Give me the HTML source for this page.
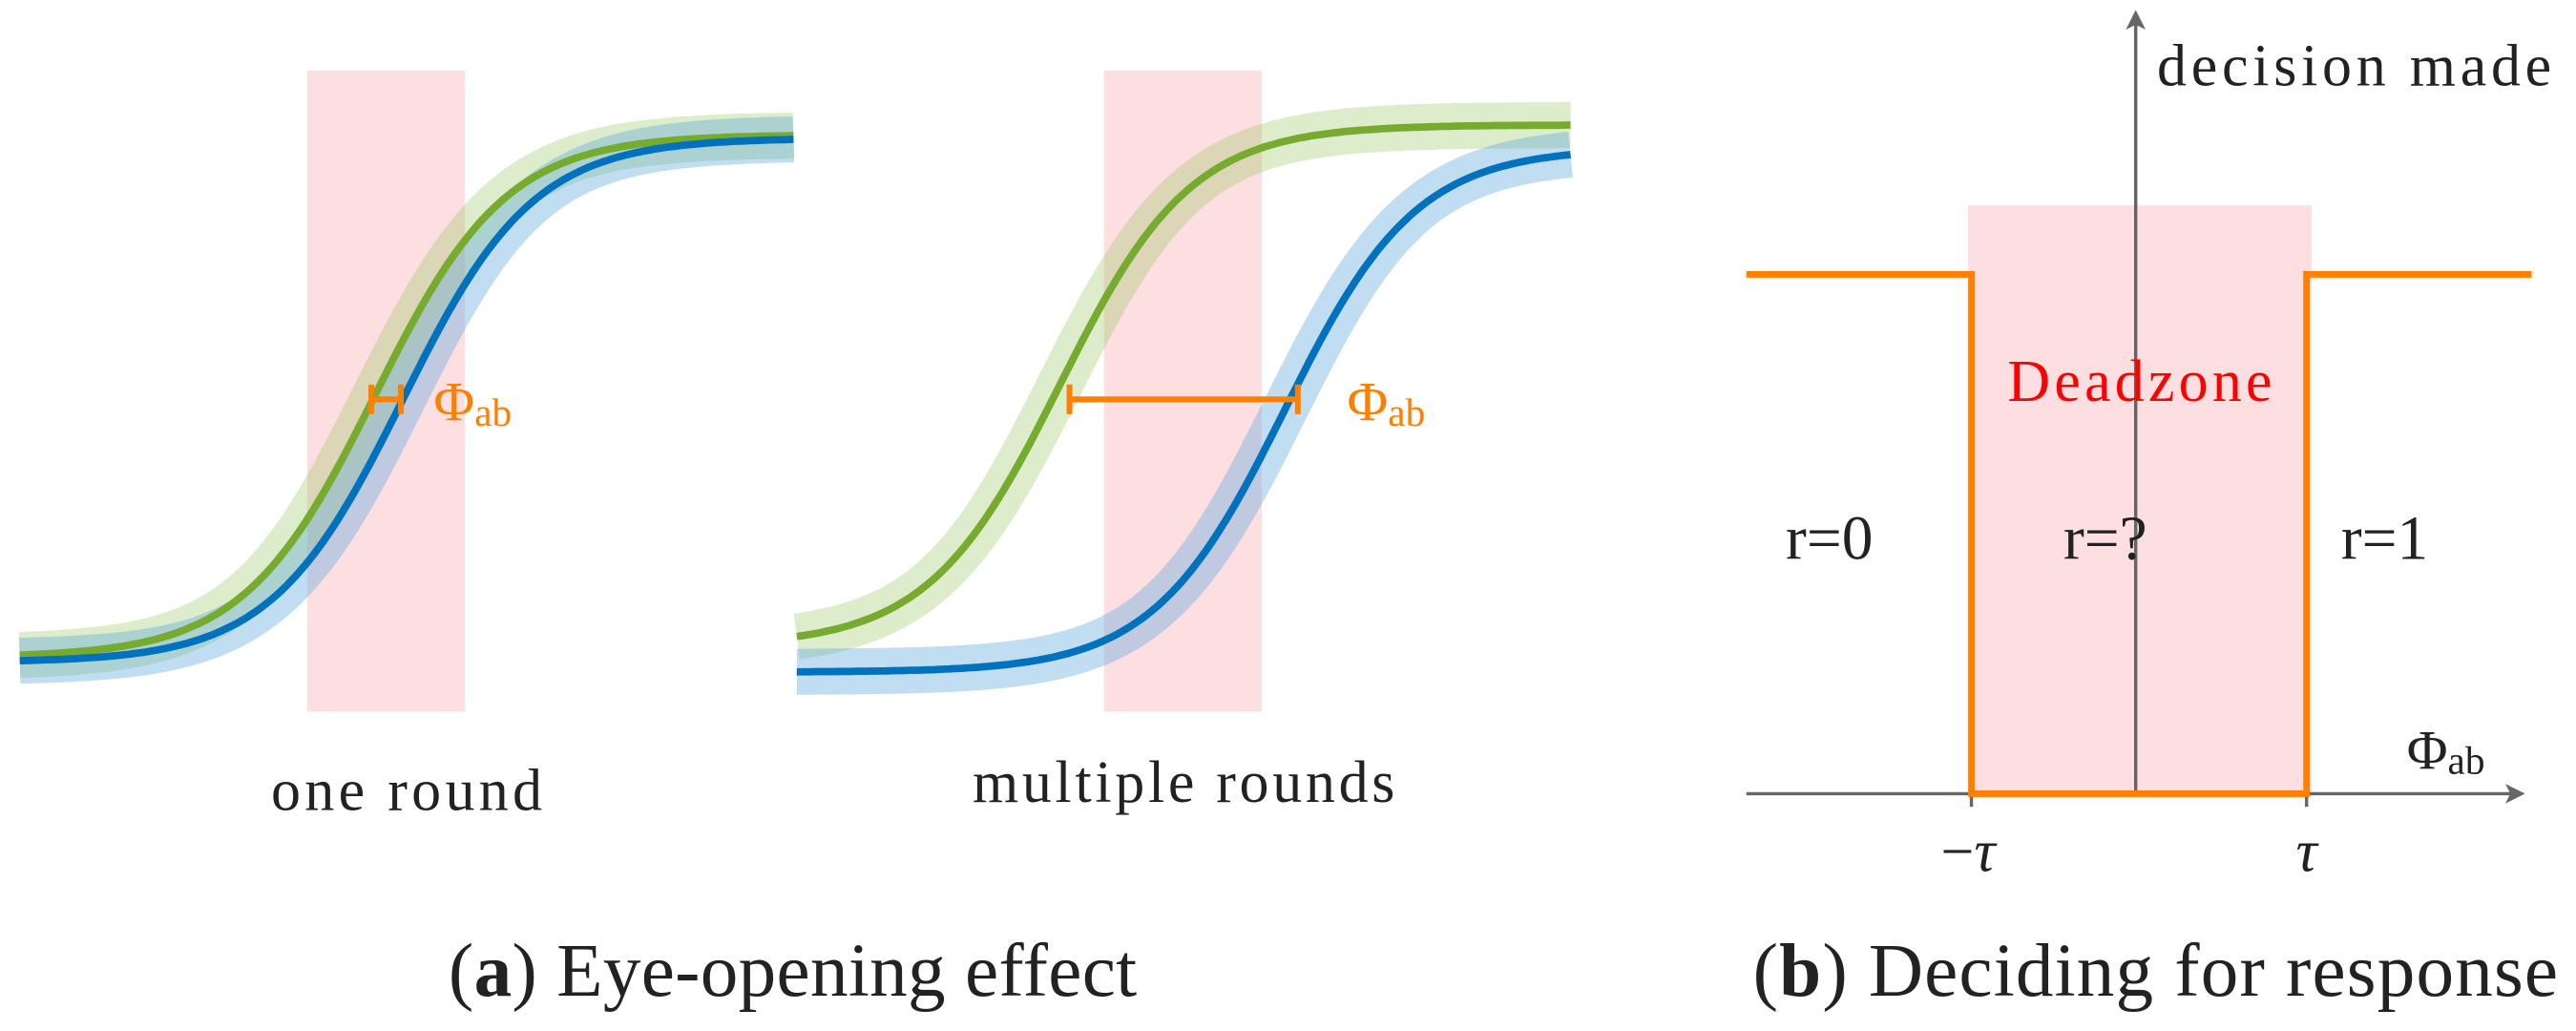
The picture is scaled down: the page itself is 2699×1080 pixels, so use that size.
<!DOCTYPE html>
<html><head><meta charset="utf-8"><style>
html,body{margin:0;padding:0;background:#fff;}
svg{display:block}
text{font-family:"Liberation Serif",serif;}
</style></head><body>
<svg id="s" width="2699" height="1080" viewBox="0 0 1568 627.4" xmlns="http://www.w3.org/2000/svg">
<rect x="187" y="43" width="96" height="390" fill="#fddfe2"/>
<rect x="672" y="43" width="96" height="390" fill="#fddfe2"/>
<rect x="1198" y="125" width="209" height="358" fill="#fddfe2"/>
<g id="curves"></g>
<g stroke="#ff8000" stroke-width="3.5" fill="none">
<line x1="226" y1="243" x2="244" y2="243"/><line x1="226" y1="234" x2="226" y2="252"/><line x1="244" y1="234" x2="244" y2="252"/>
<line x1="651" y1="243" x2="790" y2="243"/><line x1="651" y1="234" x2="651" y2="252"/><line x1="790" y1="234" x2="790" y2="252"/>
</g>
<text x="264" y="256" font-size="34" fill="#ff8000">Φ<tspan font-size="24" dy="3">ab</tspan></text>
<text x="820" y="256" font-size="34" fill="#ff8000">Φ<tspan font-size="24" dy="3">ab</tspan></text>
<text x="165" y="493" font-size="36" textLength="165" lengthAdjust="spacing" fill="#222">one round</text>
<text x="592" y="488" font-size="36" textLength="257" lengthAdjust="spacing" fill="#222">multiple rounds</text>
<text x="273" y="606" font-size="46" textLength="419" lengthAdjust="spacing" fill="#222">(<tspan font-weight="bold">a</tspan>) Eye-opening effect</text>
<text x="1067" y="606" font-size="46" textLength="490" lengthAdjust="spacing" fill="#222">(<tspan font-weight="bold">b</tspan>) Deciding for response</text>
<g stroke="#666" stroke-width="2" fill="none">
<line x1="1063" y1="483" x2="1533" y2="483"/>
<line x1="1300" y1="483" x2="1300" y2="10"/>
<line x1="1200" y1="483" x2="1200" y2="491"/>
<line x1="1404" y1="483" x2="1404" y2="491"/>
</g>
<path d="M1537,483 L1525,477 L1528,483 L1525,489 Z" fill="#666"/>
<path d="M1300,6 L1294,18 L1300,15 L1306,18 Z" fill="#666"/>
<path d="M1063,167 L1200,167 L1200,483 L1404,483 L1404,167 L1541,167" stroke="#ff8000" stroke-width="4" fill="none"/>
<text x="1198" y="530" font-size="36" text-anchor="middle" fill="#222">−<tspan font-style="italic">τ</tspan></text>
<text x="1404" y="530" font-size="36" text-anchor="middle" font-style="italic" fill="#222">τ</text>
<text x="1222" y="244" font-size="36" textLength="161" lengthAdjust="spacing" fill="#ff0000">Deadzone</text>
<text x="1087" y="340" font-size="38" fill="#222">r=0</text>
<text x="1256" y="340" font-size="38" fill="#222">r=?</text>
<text x="1425" y="340" font-size="38" fill="#222">r=1</text>
<text x="1313" y="52" font-size="36" textLength="240" lengthAdjust="spacing" fill="#222">decision made</text>
<text x="1465" y="468" font-size="34" fill="#222">Φ<tspan font-size="24" dy="3">ab</tspan></text>
</svg>
<script>
function sig(x0,x1,yL,yR,c,k){var p=[];for(var x=x0;x<=x1;x+=3){var s=1/(1+Math.exp(-(x-c)/k));p.push((p.length?'L':'M')+x.toFixed(1)+','+(yL+(yR-yL)*s).toFixed(1));}return p.join(' ');}
var curves=[
 [12,485,400,82,228,40,'#76ab2f'],
 [12,485,403,84,245,40,'#0072bd'],
 [485,957,393,76,645,40,'#76ab2f'],
 [485,957,409,90,782,40,'#0072bd']
];
var g=document.getElementById('curves'),h='';
curves.forEach(function(c){var d=sig(c[0],c[1],c[2],c[3],c[4],c[5]);
 h+='<path d="'+d+'" stroke="'+(c[6]=='#76ab2f'?'rgba(150,195,90,0.32)':'rgba(90,165,220,0.38)')+'" stroke-width="28" fill="none"/>';});
curves.forEach(function(c){var d=sig(c[0],c[1],c[2],c[3],c[4],c[5]);
 h+='<path d="'+d+'" stroke="'+c[6]+'" stroke-width="4.5" fill="none"/>';});
g.innerHTML=h;
</script>
</body></html>
